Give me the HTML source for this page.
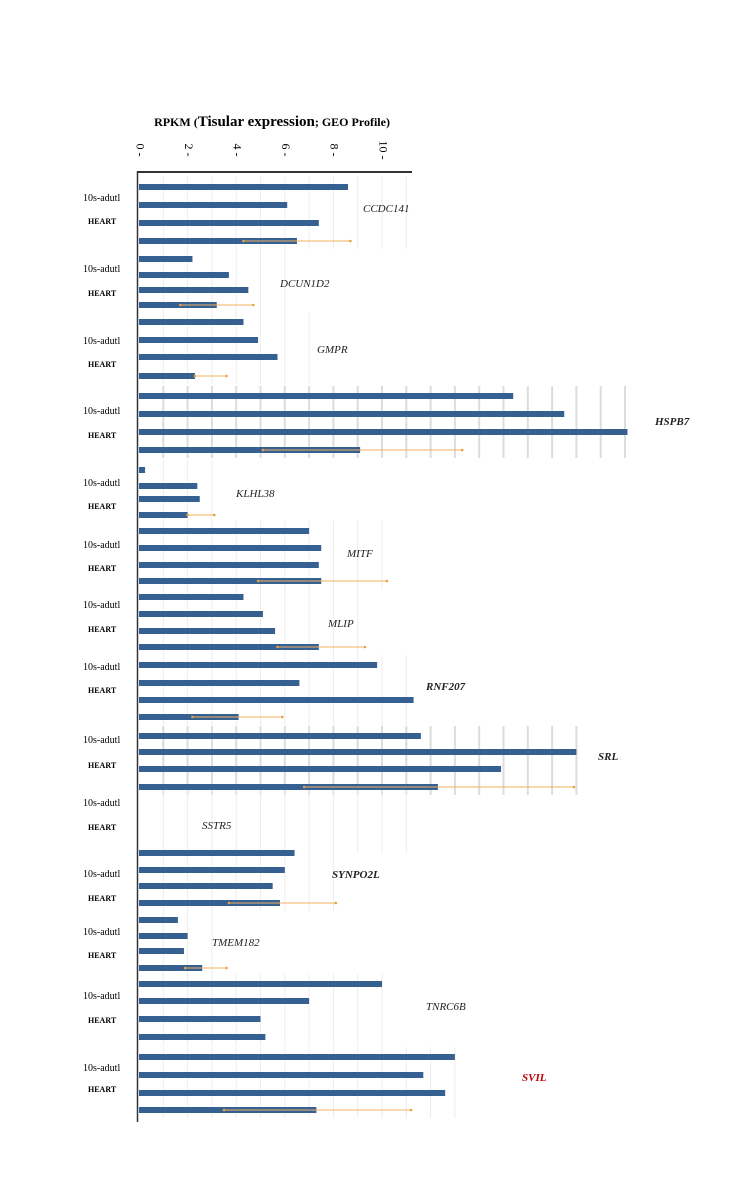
<!DOCTYPE html>
<html><head><meta charset="utf-8"><style>
html,body{margin:0;padding:0;background:#fff;width:750px;height:1200px;overflow:hidden}
svg{display:block}
text{font-family:"Liberation Serif",serif}
</style></head><body>
<svg id="chart" width="750" height="1200"></svg>
<script>
const genes=["CCDC141","DCUN1D2","GMPR","HSPB7","KLHL38","MITF","MLIP","RNF207","SRL","SSTR5","SYNPO2L","TMEM182","TNRC6B","SVIL"];
const barValues=[[8.6,6.1,7.4,6.5],[2.2,3.7,4.5,3.2],[4.3,4.9,5.7,2.3],[15.4,17.5,20.1,9.1],[0.25,2.4,2.5,2.0],[7.0,7.5,7.4,7.5],[4.3,5.1,5.6,7.4],[9.8,6.6,11.3,4.1],[11.6,18.0,14.9,12.3],[0,0,0,0],[6.4,6.0,5.5,5.8],[1.6,2.0,1.85,2.6],[10.0,7.0,5.0,5.2],[13.0,11.7,12.6,7.3]];
const errLow=[4.3,1.7,2.3,5.1,2.0,4.9,5.7,2.2,6.8,null,3.7,1.9,null,3.5];
const errHigh=[8.7,4.7,3.6,13.3,3.1,10.2,9.3,5.9,17.9,null,8.1,3.6,null,11.2];
const ticks=[0,2,4,6,8,10];
// layout (not data)
const barYs=[[187,205,223,241],[259,275,290,305],[322,340,357,376],[396,414,432,450],[470,486,499,515],[531,548,565,581],[597,614,631,647],[665,683,700,717],[736,752,769,787],[800,815,830,845],[853,870,886,903],[920,936,951,968],[984,1001,1019,1037],[1057,1075,1093,1110]];
const labY=[[201,224],[272,296],[344,367],[414,438],[486,509],[548,571],[608,632],[670,693],[743,768],[806,830],[877,901],[935,958],[999,1023],[1071,1092]];
const geneLab=[[363,212,"i",0],[280,287,"i",0],[317,353,"i",0],[655,425,"bi",0],[236,497,"i",0],[347,557,"i",0],[328,627,"i",0],[426,690,"bi",0],[598,760,"bi",0],[202,829,"i",0],[332,878,"bi",0],[212,946,"i",0],[426,1010,"i",0],[522,1081,"bi",1]];
const gridW=[11,6,7,20.5,3,10.5,9.5,11.8,18.5,11.8,8.3,3.2,10.3,13.5];
const x0=139,k=24.3;
const X=v=>x0+v*k;
const svg=document.getElementById('chart');
const NS="http://www.w3.org/2000/svg";
function mk(t,a,p){const e=document.createElementNS(NS,t);for(const q in a)e.setAttribute(q,a[q]);(p||svg).appendChild(e);return e;}
genes.forEach((g,i)=>{
  const y1=barYs[i][0]-10,y2=barYs[i][3]+8;
  for(let v=1;v<=gridW[i];v+=1){
    const l=mk('line',{x1:X(v),x2:X(v),y1:y1,y2:y2,stroke:(i==3||i==8)?'#dcdcdc':'#ededed','stroke-width':(i==3||i==8)?2:1});
    
    
  }
});
const t=mk('text',{x:272,y:126,'text-anchor':'middle','font-size':12,'font-weight':'bold'});
t.innerHTML='RPKM (<tspan font-size="15">Tisular expression</tspan>; GEO Profile)';


const ax=mk('line',{x1:137,x2:412,y1:172,y2:172,stroke:'#333','stroke-width':2});


const ay=mk('line',{x1:137.5,x2:137.5,y1:171,y2:1122,stroke:'#333','stroke-width':1.5});


ticks.forEach(v=>{
  const tx=mk('text',{x:X(v),y:150,'font-size':12,'text-anchor':'middle',transform:`rotate(90 ${X(v)} 150)`,'dominant-baseline':'middle'});
  tx.textContent=v+" -";
  
  
});
genes.forEach((g,i)=>{
  const a=mk('text',{x:83,y:labY[i][0],'font-size':10});
  a.textContent="10s-adutl";
  
  
  const h=mk('text',{x:88,y:labY[i][1],'font-size':8,'font-weight':'bold'});
  h.textContent="HEART";
  
  
  barValues[i].forEach((v,j)=>{
    if(v<=0)return;
    const r=mk('rect',{x:x0,y:barYs[i][j]-3,width:X(v)-x0,height:6,fill:'#366092'});
    
    
  });
  if(errLow[i]!==null){
    const yy=barYs[i][3];
    const e=mk('line',{x1:X(errLow[i]),x2:X(errHigh[i]),y1:yy,y2:yy,stroke:'#f0b060','stroke-width':1});
    
    
    [errLow[i],errHigh[i]].forEach(v=>{
      const c=mk('circle',{cx:X(v),cy:yy,r:1.3,fill:'#e9a040'});
      
      
    });
  }
  const gl=geneLab[i];
  const gt=mk('text',{x:gl[0],y:gl[1],'font-size':11,'font-style':'italic','font-weight':gl[2]=="bi"?'bold':'normal',fill:gl[3]?'#c00000':'#222'});
  gt.textContent=g;
  
  
});
</script>
</body></html>
